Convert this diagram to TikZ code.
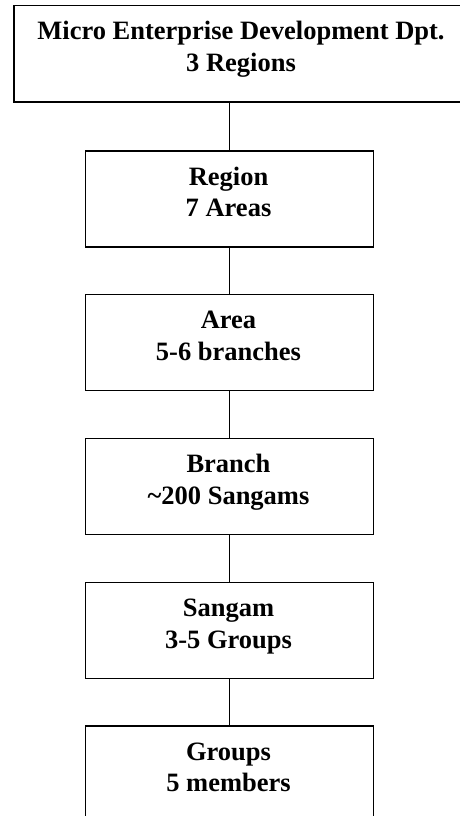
\documentclass[tikz,border=0pt]{standalone}
\usepackage{fontspec}
\setmainfont{Liberation Serif}
\begin{document}
\begin{tikzpicture}[x=1pt,y=-1pt,
  box/.style={draw=black,line width=1.5pt,fill=white,minimum width=288pt,minimum height=96pt,inner sep=0pt,anchor=north west},
  lbl/.style={font=\bfseries\fontsize{26.5}{30}\selectfont,inner sep=0pt,anchor=base},
  conn/.style={line width=1.4pt}]
\useasboundingbox (0,0) rectangle (460,816);
\node[box,minimum width=456pt] (dept) at (13,5) {};
\node[box] (region) at (84.5,150) {};
\node[box] (area) at (84.5,293.5) {};
\node[box] (branch) at (84.5,437.5) {};
\node[box] (sangam) at (84.5,581.5) {};
\node[box] (groups) at (84.5,725) {};
\node[lbl] (t1a) at (241,40) {Micro Enterprise Development Dpt.};
\node[lbl] (t1b) at (241,71) {3 Regions};
\node[lbl] (t2a) at (228.5,185) {Region};
\node[lbl] (t2b) at (228.5,216) {7 Areas};
\node[lbl] (t3a) at (228.5,328.5) {Area};
\node[lbl] (t3b) at (228.5,360) {5-6 branches};
\node[lbl] (t4a) at (228.5,472.5) {Branch};
\node[lbl] (t4b) at (228.5,504) {\textasciitilde200 Sangams};
\node[lbl] (t5a) at (228.5,616.5) {Sangam};
\node[lbl] (t5b) at (228.5,648) {3-5 Groups};
\node[lbl] (t6a) at (228.5,760) {Groups};
\node[lbl] (t6b) at (228.5,791) {5 members};
\draw[conn] (dept.south -| region.north) -- (region.north);
\draw[conn] (region.south) -- (area.north);
\draw[conn] (area.south) -- (branch.north);
\draw[conn] (branch.south) -- (sangam.north);
\draw[conn] (sangam.south) -- (groups.north);
\end{tikzpicture}
\end{document}
